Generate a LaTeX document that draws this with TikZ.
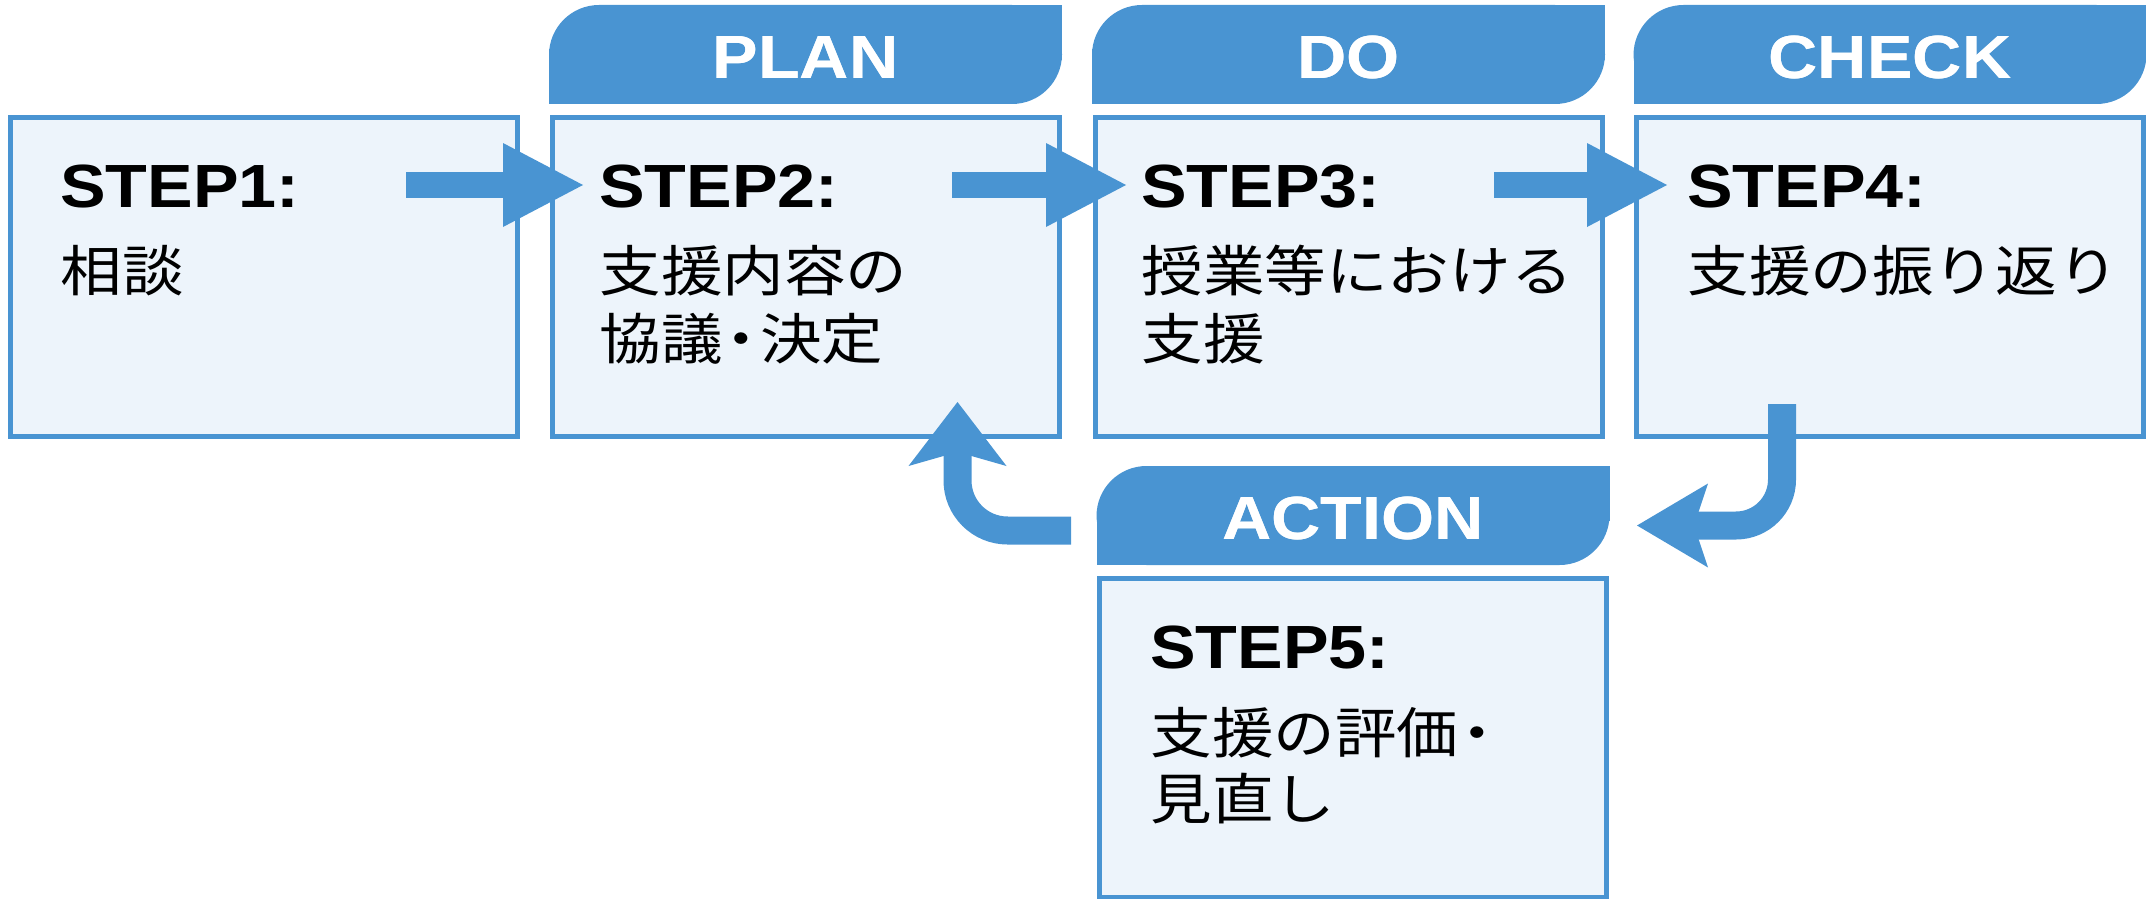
\documentclass[tikz,border=0pt]{standalone}
\usepackage{fontspec}
\setmainfont{Liberation Sans}[FakeStretch=1.12]
\newfontfamily\jp{Noto Sans CJK JP}[FakeStretch=1.12]
\usetikzlibrary{arrows.meta}
\definecolor{pblue}{RGB}{73,148,210}
\definecolor{pfill}{RGB}{237,244,251}
\begin{document}
\begin{tikzpicture}[x=0.5pt,y=-0.5pt,
  stepbox/.style={draw=pblue, fill=pfill, line width=2.5pt, minimum width=253.5pt, minimum height=159.5pt, inner sep=0pt, outer sep=0pt},
  tabbox/.style={fill=pblue, rounded corners=25pt, minimum width=256.5pt, minimum height=49.5pt, inner sep=0pt, outer sep=0pt, text=white, font=\bfseries\fontsize{30.5}{36}\selectfont, text height=24pt, text depth=0pt},
  steplabel/.style={anchor=base west, inner sep=0pt, font=\bfseries\fontsize{30.5}{36}\selectfont},
  jptext/.style={anchor=base west, inner sep=0pt, font=\jp\fontsize{27.5}{33}\selectfont},
  flow/.style={pblue, line width=13pt, -{Triangle[length=40pt,width=42pt,line width=0pt]}},
  loopL/.style={pblue, line width=14pt, rounded corners=25pt, -{Stealth[length=32pt,width=49pt,inset=7pt,line width=0pt]}},
  loopR/.style={pblue, line width=14pt, rounded corners=23pt, -{Stealth[length=35.5pt,width=42pt,inset=7pt,line width=0pt]}}
]
\useasboundingbox (0,0) rectangle (2146,899);

% tabs
\node[tabbox] (tPlan) at (805.5,54.5) {PLAN};
\node[tabbox] (tDo) at (1348.5,54.5) {DO};
\node[tabbox] (tCheck) at (1890,54.5) {CHECK};
\node[tabbox] (tAct) at (1353,515.5) {ACTION};
\foreach \t in {tPlan,tDo,tCheck,tAct}{
  \fill[pblue] (\t.north east) rectangle ++(-55,55);
  \fill[pblue] (\t.south west) rectangle ++(55,-55);
}
\node[tabbox, fill=none] (tPlanL) at (805.5,54.5) {PLAN};
\node[tabbox, fill=none] (tDoL) at (1348.5,54.5) {DO};
\node[tabbox, fill=none] (tCheckL) at (1890,54.5) {CHECK};
\node[tabbox, fill=none] (tActL) at (1353,515.5) {ACTION};

% boxes
\node[stepbox] (b1) at (264,277) {};
\node[stepbox] (b2) at (805.5,277) {};
\node[stepbox] (b3) at (1348.5,277) {};
\node[stepbox] (b4) at (1890,277) {};
\node[stepbox] (b5) at (1353,737.5) {};

% texts
\node[steplabel] (s1) at (60,207) {STEP1:};
\node[jptext] (j1) at (60,291) {相談};
\node[steplabel] (s2) at (599,207) {STEP2:};
\node[jptext] (j2a) at (599,291) {支援内容の};
\node[jptext] (j2b) at (599,359) {協議\kern-0.22em・\kern-0.22em決定};
\node[steplabel] (s3) at (1141,207) {STEP3:};
\node[jptext] (j3a) at (1141,291) {授業等における};
\node[jptext] (j3b) at (1141,359) {支援};
\node[steplabel] (s4) at (1687,207) {STEP4:};
\node[jptext] (j4) at (1687,291) {支援の振り返り};
\node[steplabel] (s5) at (1150,668) {STEP5:};
\node[jptext] (j5a) at (1150,753) {支援の評価\kern-0.22em・};
\node[jptext] (j5b) at (1150,819) {見直し};

% connectors
\coordinate (a1s) at (406,185);
\coordinate (a1e) at (583,185);
\coordinate (a2s) at (952,185);
\coordinate (a2e) at (1126,185);
\coordinate (a3s) at (1494,185);
\coordinate (a3e) at (1667,185);
\draw[flow] (a1s) -- (a1e);
\draw[flow] (a2s) -- (a2e);
\draw[flow] (a3s) -- (a3e);

\coordinate (lS) at (1071,530.5);
\coordinate (lE) at (957.5,402);
\draw[loopL] (lS) -| (lE);
\coordinate (rS) at (1782,404);
\coordinate (rE) at (1637,525.5);
\draw[loopR] (rS) |- (rE);
\end{tikzpicture}
\end{document}
